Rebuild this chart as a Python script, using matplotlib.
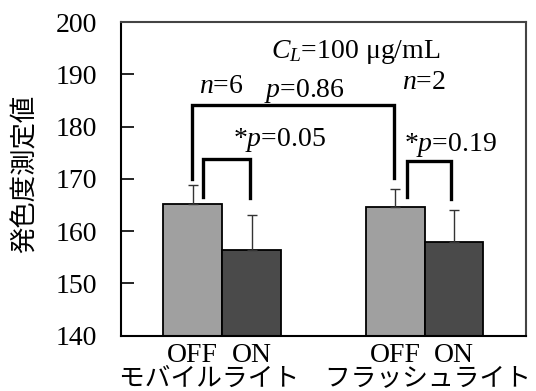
import matplotlib
matplotlib.use("Agg")
import matplotlib.pyplot as plt
import numpy as np

plt.rcParams['font.family'] = ['Liberation Serif', 'DejaVu Serif']
plt.rcParams['mathtext.fontset'] = 'custom'
plt.rcParams['mathtext.rm'] = 'Liberation Serif'
plt.rcParams['mathtext.it'] = 'Liberation Serif:italic'

# ---- data ----
groups = ["モバイルライト", "フラッシュライト"]
conditions = ["OFF", "ON"]
means_off = [165.2, 164.7]
means_on = [156.4, 157.9]
err_off = [3.7, 3.35]
err_on = [6.7, 6.2]
y_ticks = [140, 150, 160, 170, 180, 190, 200]
y_label = "発色度測定値"

# brackets: (x_left, x_right, y_top, y_left_bottom, y_right_bottom)
big_bracket = (-0.151, 0.847, 184.2, 170.0, 170.2)
small_brackets = [(-0.097, 0.137, 173.8, 166.5, 166.3),
                  (0.911, 1.130, 173.5, 166.6, 166.2)]

annotations = [
    (r"$C_L$=100 μg/mL", 0.662, 193.1),
    (r"$n$=6", -0.002, 186.5),
    (r"$n$=2", 0.998, 187.2),
    (r"$p$=0.86", 0.405, 185.6),
    (r"*$p$=0.05", 0.283, 176.2),
    (r"*$p$=0.19", 1.127, 175.3),
]

W, H = 536, 391
fig = plt.figure(figsize=(W / 100, H / 100), dpi=100)
ax = fig.add_axes([121 / W, 1 - 335.7 / H, (525.7 - 121) / W, (335.7 - 22) / H])

x = np.arange(len(groups))
bw = 0.29
off_x = x - bw / 2
on_x = x + bw / 2

ax.bar(off_x, [m - 140 for m in means_off], bw, bottom=140, color="#a0a0a0",
       edgecolor="black", linewidth=1.3, zorder=2)
ax.bar(on_x, [m - 140 for m in means_on], bw, bottom=140, color="#4a4a4a",
       edgecolor="black", linewidth=1.3, zorder=2)

ax.errorbar(off_x, means_off, yerr=[np.zeros(2), err_off], fmt="none",
            ecolor="#333333", elinewidth=1.0, capsize=3.6, capthick=1.0, zorder=3)
ax.errorbar(on_x, means_on, yerr=[np.zeros(2), err_on], fmt="none",
            ecolor="#333333", elinewidth=1.0, capsize=3.6, capthick=1.0, zorder=3)

def bracket(b):
    xl, xr, yt, ybl, ybr = b
    ax.plot([xl, xl, xr, xr], [ybl, yt, yt, ybr], color="black",
            linewidth=2.4, solid_joinstyle="miter", zorder=4, clip_on=False)

bracket(big_bracket)
for b in small_brackets:
    bracket(b)

for txt, tx, ty in annotations:
    ax.text(tx, ty, txt, ha="center", va="baseline", fontsize=20)

ax.set_xlim(-0.5, 1.5)
ax.set_ylim(140, 200)
ax.set_yticks(y_ticks)
ax.set_yticklabels([str(t) for t in y_ticks], fontsize=20)
ax.tick_params(axis="y", direction="in", length=9, width=1.2, pad=17)
ax.set_xticks(list(off_x) + list(on_x))
ax.set_xticklabels([conditions[0]] * 2 + [conditions[1]] * 2, fontsize=20)
ax.tick_params(axis="x", length=0, pad=5)
for sp in ax.spines.values():
    sp.set_linewidth(1.5)
    sp.set_color("black")
ax.spines["top"].set_color("#444444")
ax.spines["right"].set_color("#444444")

fig.text(325 / W, 1 - 385 / H, "　".join(groups), ha="center", va="baseline",
         fontsize=18.5, family=["Noto Sans CJK JP", "DejaVu Sans"])
fig.text(25 / W, 1 - 174 / H, y_label, ha="center", va="center", rotation=90,
         fontsize=19, family=["Noto Sans CJK JP", "DejaVu Sans"])

fig.savefig("out.png", dpi=100)
